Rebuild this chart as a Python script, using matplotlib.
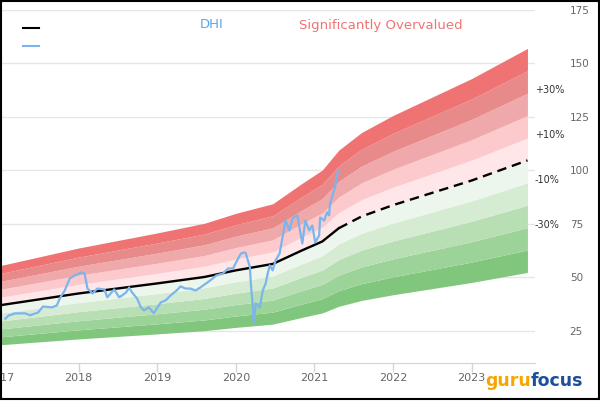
import matplotlib
matplotlib.use("Agg")

import numpy as np
import matplotlib.pyplot as plt
from matplotlib.lines import Line2D
from matplotlib.patches import Rectangle

# DHI price (decimal year, USD)
price_years = [2017.068, 2017.110, 2017.194, 2017.320, 2017.383, 2017.484, 2017.547, 2017.660,
               2017.723, 2017.761, 2017.824, 2017.887, 2017.950, 2018.038, 2018.076, 2018.113,
               2018.176, 2018.239, 2018.327, 2018.365, 2018.453, 2018.516, 2018.554, 2018.605,
               2018.642, 2018.680, 2018.743, 2018.793, 2018.831, 2018.894, 2018.957, 2018.995,
               2019.045, 2019.108, 2019.171, 2019.247, 2019.297, 2019.360, 2019.423, 2019.486,
               2019.549, 2019.587, 2019.675, 2019.751, 2019.839, 2019.902, 2019.965, 2020.003,
               2020.065, 2020.116, 2020.128, 2020.179, 2020.191, 2020.217, 2020.229, 2020.254,
               2020.305, 2020.343, 2020.380, 2020.406, 2020.431, 2020.469, 2020.506, 2020.557,
               2020.594, 2020.632, 2020.683, 2020.720, 2020.783, 2020.809, 2020.846, 2020.884,
               2020.935, 2020.972, 2021.010, 2021.060, 2021.073, 2021.123, 2021.161, 2021.186,
               2021.199, 2021.249, 2021.262, 2021.287, 2021.312]
price_vals = [30.7, 32.2, 33.2, 33.2, 32.3, 33.6, 36.4, 36.0,
              36.9, 40.2, 43.9, 49.5, 50.9, 52.3, 51.9, 44.8,
              42.5, 44.8, 44.4, 40.7, 44.4, 40.7, 41.6, 43.0,
              45.3, 43.0, 40.2, 36.0, 34.6, 36.0, 33.2, 35.5,
              38.3, 39.3, 41.6, 43.9, 45.8, 44.8, 44.8, 43.9,
              45.3, 46.3, 48.6, 50.9, 51.9, 54.2, 54.2, 57.0,
              61.2, 61.7, 61.2, 54.7, 47.2, 36.0, 29.0, 37.9,
              36.0, 43.9, 47.2, 51.9, 55.6, 53.3, 58.0, 61.2,
              68.7, 76.6, 72.0, 77.6, 79.0, 73.4, 65.9, 76.6,
              72.0, 74.3, 66.4, 69.6, 78.0, 76.6, 80.4, 79.0,
              84.6, 90.7, 92.0, 98.6, 100.0]

# GF value line (median)
med_years = [2017.0, 2018.0, 2019.0, 2019.6, 2020.0, 2020.47, 2020.84, 2021.1, 2021.31,
             2021.6, 2022.0, 2023.0, 2023.71]
med_vals = [37.0, 42.5, 47.2, 50.2, 53.3, 56.3, 62.6, 66.8, 73.0, 78.5, 83.8, 95.3, 104.7]
last_actual = 2021.31

band_mults = [0.5, 0.6, 0.7, 0.8, 0.9, 1.0, 1.1, 1.2, 1.3, 1.4, 1.5]
band_colors = ["#80c77d", "#9cd398", "#b8deb4", "#d5ecd3", "#ecf6ec",
               "#ffe6e8", "#fcc9cd", "#f0a9aa", "#e88a8a", "#f07373"]
band_labels = ["-30%", "-10%", "+10%", "+30%"]
band_label_mults = [0.7, 0.9, 1.1, 1.3]

yticks = [25, 50, 75, 100, 125, 150, 175]
xticks = [2017, 2018, 2019, 2020, 2021, 2022, 2023]

W, H = 600, 420
fig = plt.figure(figsize=(6, 4.2), dpi=100)
ax = fig.add_axes([0, (H - 363) / H, 535 / W, 353 / H])

my = np.array(med_years)
mv = np.array(med_vals)
for i in range(len(band_colors)):
    ax.fill_between(my, mv * band_mults[i], mv * band_mults[i + 1],
                    color=band_colors[i], lw=0, zorder=1)

solid = my <= last_actual
ax.plot(my[solid], mv[solid], color="black", lw=1.7, zorder=3)
ax.plot(my[my >= last_actual], mv[my >= last_actual], color="black", lw=1.7,
        dashes=(4, 2.5), zorder=3)
ax.plot(price_years, price_vals, color="#7cb5ec", lw=1.6, zorder=4)

for lab, m in zip(band_labels, band_label_mults):
    ax.annotate(lab, xy=(1.0, mv[-1] * m), xycoords=("axes fraction", "data"),
                xytext=(0, 2), textcoords="offset points", ha="left", va="center",
                fontsize=7, color="#333333", annotation_clip=False)

ax.set_xlim(2018 - 74 / 79.4, 2018 + 461 / 79.4)
ax.set_ylim(10, 175)
ax.set_yticks(yticks)
ax.set_xticks(xticks)
ax.set_xticklabels([str(x) for x in xticks])
ax.yaxis.tick_right()
ax.grid(axis="y", color="#e6e6e6", lw=1, zorder=0)
ax.set_axisbelow(True)
ax.tick_params(axis="y", length=0, pad=25, labelsize=7.5, labelcolor="#666666")
ax.tick_params(axis="x", length=6.5, width=1, color="#ccd6eb", pad=1,
               labelsize=8, labelcolor="#666666")
for s in ["top", "left", "right"]:
    ax.spines[s].set_visible(False)
ax.spines["bottom"].set_color("#ccd6eb")

# legend / title texts
fig.add_artist(Line2D([23 / W, 39 / W], [1 - 28 / H, 1 - 28 / H], color="black", lw=1.5))
fig.add_artist(Line2D([23 / W, 39 / W], [1 - 46 / H, 1 - 46 / H], color="#7cb5ec", lw=1.5))
fig.text(212 / W, 1 - 25 / H, "DHI", color="#5aa5f0", fontsize=9.5, ha="center", va="center")
fig.text(381 / W, 1 - 25 / H, "Significantly Overvalued", color="#f07373", fontsize=9.5,
         ha="center", va="center")

# watermark
fig.text(531 / W, 1 - 386 / H, "guru", color="#f7a600", fontsize=12.5, fontweight="bold",
         ha="right", va="baseline")
fig.text(531 / W, 1 - 386 / H, "focus", color="#1c4f9c", fontsize=12.5, fontweight="bold",
         ha="left", va="baseline")

# outer frame
fig.add_artist(Rectangle((0.5 / W, 1 - 399 / H), 598.5 / W, 398.5 / H,
                         transform=fig.transFigure, fill=False, ec="black", lw=1.5))

fig.savefig("out.png", dpi=100)
